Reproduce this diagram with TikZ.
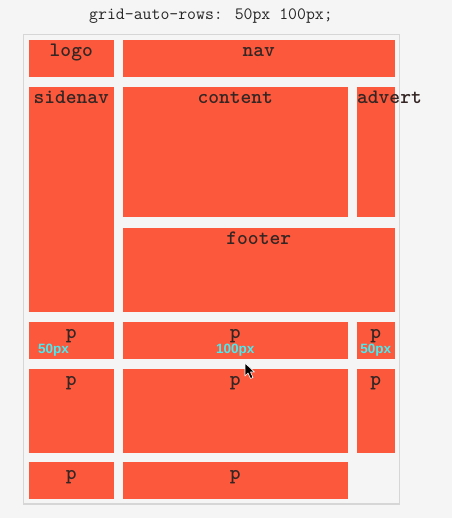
\documentclass[tikz,border=0pt]{standalone}
\usepackage{fontspec}
\setsansfont{Liberation Sans}
\usetikzlibrary{positioning}

\definecolor{pagebg}{RGB}{245,245,245}
\definecolor{gridline}{RGB}{214,214,214}
\definecolor{cellfill}{RGB}{252,88,60}
\definecolor{celltext}{RGB}{52,38,36}
\definecolor{sizecyan}{RGB}{70,236,242}

\begin{document}
\begin{tikzpicture}[
	x=1pt, y=-1pt,
	cell/.style={
		rectangle,
		draw=none,
		fill=cellfill,
		inner sep=0pt,
		outer sep=0pt
	},
	gridframe/.style={
		rectangle,
		draw=gridline,
		line width=1.2pt,
		fill=pagebg,
		inner sep=0pt
	},
	celllabel/.style={
		anchor=base,
		inner sep=0pt,
		text=celltext,
		font=\fontsize{20.5}{22}\selectfont\ttfamily\bfseries
	},
	headline/.style={
		anchor=base,
		inner sep=0pt,
		text=black!85,
		font=\fontsize{17.3}{19}\selectfont\ttfamily
	},
	sizetag/.style={
		anchor=base,
		inner sep=0pt,
		text=sizecyan,
		font=\fontsize{13.5}{15}\selectfont\sffamily\bfseries
	}
]
\fill[pagebg] (0,0) rectangle (452,518);
\useasboundingbox (0,0) rectangle (452,518);

\node[headline] (title) at (211,20) {grid-auto-rows: 50px 100px;};

\node[gridframe, minimum width=376pt, minimum height=469.5pt] (grid) at (211.5,269.25) {};

\node[cell, minimum width=84.5pt, minimum height=37pt] (logo) at (71.25,58.5) {};
\node[cell, minimum width=271.5pt, minimum height=37pt] (nav) at (258.75,58.5) {};
\node[cell, minimum width=84.5pt, minimum height=224.5pt] (sidenav) at (71.25,199.25) {};
\node[cell, minimum width=224.5pt, minimum height=130.5pt] (content) at (235.25,152.25) {};
\node[cell, minimum width=37.5pt, minimum height=130.5pt] (advert) at (375.75,152.25) {};
\node[cell, minimum width=271.5pt, minimum height=84pt] (footer) at (258.75,269.5) {};

\node[cell, minimum width=84.5pt, minimum height=37pt] (pa1) at (71.25,340) {};
\node[cell, minimum width=224.5pt, minimum height=37pt] (pb1) at (235.25,340) {};
\node[cell, minimum width=37.5pt, minimum height=37pt] (pc1) at (375.75,340) {};
\node[cell, minimum width=84.5pt, minimum height=84pt] (pa2) at (71.25,410.5) {};
\node[cell, minimum width=224.5pt, minimum height=84pt] (pb2) at (235.25,410.5) {};
\node[cell, minimum width=37.5pt, minimum height=84pt] (pc2) at (375.75,410.5) {};
\node[cell, minimum width=84.5pt, minimum height=37pt] (pa3) at (71.25,480.5) {};
\node[cell, minimum width=224.5pt, minimum height=37pt] (pb3) at (235.25,480.5) {};

\node[celllabel] (logot) at ([yshift=-16.7pt]logo.north) {logo};
\node[celllabel] (navt) at ([yshift=-16.7pt]nav.north) {nav};
\node[celllabel] (sidenavt) at ([yshift=-17pt]sidenav.north) {sidenav};
\node[celllabel] (contentt) at ([yshift=-17pt]content.north) {content};
\node[celllabel, anchor=base west] (advertt) at ([yshift=-17pt]advert.north west) {advert};
\node[celllabel] (footert) at ([yshift=-17pt]footer.north) {footer};

\node[celllabel] (pa1t) at ([yshift=-17pt]pa1.north) {p};
\node[celllabel] (pb1t) at ([yshift=-17pt]pb1.north) {p};
\node[celllabel] (pc1t) at ([yshift=-17pt]pc1.north) {p};
\node[celllabel] (pa2t) at ([yshift=-17pt]pa2.north) {p};
\node[celllabel] (pb2t) at ([yshift=-17pt]pb2.north) {p};
\node[celllabel] (pc2t) at ([yshift=-17pt]pc2.north) {p};
\node[celllabel] (pa3t) at ([yshift=-17pt]pa3.north) {p};
\node[celllabel] (pb3t) at ([yshift=-17pt]pb3.north) {p};

\node[sizetag, anchor=base west] (sizea) at ([xshift=9pt,yshift=-32pt]pa1.north west) {50px};
\node[sizetag] (sizeb) at ([yshift=-32pt]pb1.north) {100px};
\node[sizetag] (sizec) at ([yshift=-32pt]pc1.north) {50px};

\fill[black, draw=white, line width=0.6pt, line join=round]
	(245,363) -- (245,376) -- (248,373) -- (250.5,378.5) -- (253,377.5) -- (250.5,372) -- (254.5,372) -- cycle;
\end{tikzpicture}
\end{document}
